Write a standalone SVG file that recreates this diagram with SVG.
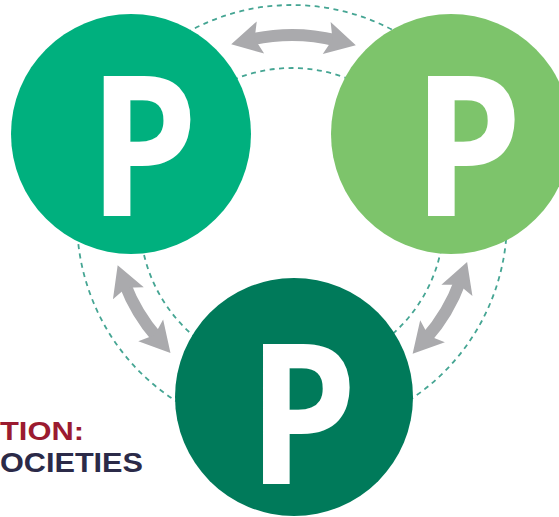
<svg xmlns="http://www.w3.org/2000/svg" width="559" height="517" viewBox="0 0 559 517">
  <style>
    .ring { fill: none; stroke: #45a593; stroke-width: 1.8; stroke-dasharray: 5 4.5; }
    .arrow { fill: none; stroke: #aaaaad; stroke-width: 12; marker-start: url(#head); marker-end: url(#head); }
    .p { font-family: "Open Sans", "Liberation Sans", sans-serif; font-weight: 700; font-size: 195px; fill: #ffffff; }
    .lbl { font-family: "Liberation Sans", Arial, sans-serif; font-weight: 700; }
  </style>
  <defs>
    <marker id="head" markerUnits="userSpaceOnUse" viewBox="0 -18 32 36" refX="10" refY="0" markerWidth="32" markerHeight="36" orient="auto-start-reverse" overflow="visible">
      <path d="M0,-16.5 L30,0 L0,16.5 L6,0 Z" fill="#aaaaad"/>
    </marker>
  </defs>
  <rect width="559" height="517" fill="#ffffff"/>
  <g id="connectors">
    <circle class="ring" cx="292" cy="220" r="215"/>
    <circle class="ring" cx="292" cy="220" r="152"/>
    <path class="arrow" d="M250.7,39.7 A185,185 0 0 1 336.4,40.4"/>
    <path class="arrow" d="M124.8,283.9 A179,179 0 0 0 157.3,337.9"/>
    <path class="arrow" d="M460.3,280.9 A179,179 0 0 1 425.9,338.8"/>
  </g>
  <g id="node-top-left">
    <circle cx="131" cy="134" r="120" fill="#00b07e"/>
    <text class="p" transform="translate(88,215.7) scale(0.9,1)">P</text>
  </g>
  <g id="node-top-right">
    <circle cx="451" cy="134" r="120" fill="#7dc46b"/>
    <text class="p" transform="translate(412.3,215.7) scale(0.9,1)">P</text>
  </g>
  <g id="node-bottom">
    <circle cx="294" cy="397" r="119" fill="#007a5a"/>
    <text class="p" transform="translate(247.3,483.5) scale(0.9,1)">P</text>
  </g>
  <g id="caption">
    <text class="lbl" x="0" y="440" font-size="25" fill="#9b1b30" textLength="84" lengthAdjust="spacingAndGlyphs">TION:</text>
    <text class="lbl" x="0" y="471.5" font-size="27" fill="#2b2a48" textLength="143" lengthAdjust="spacingAndGlyphs">OCIETIES</text>
  </g>
</svg>
